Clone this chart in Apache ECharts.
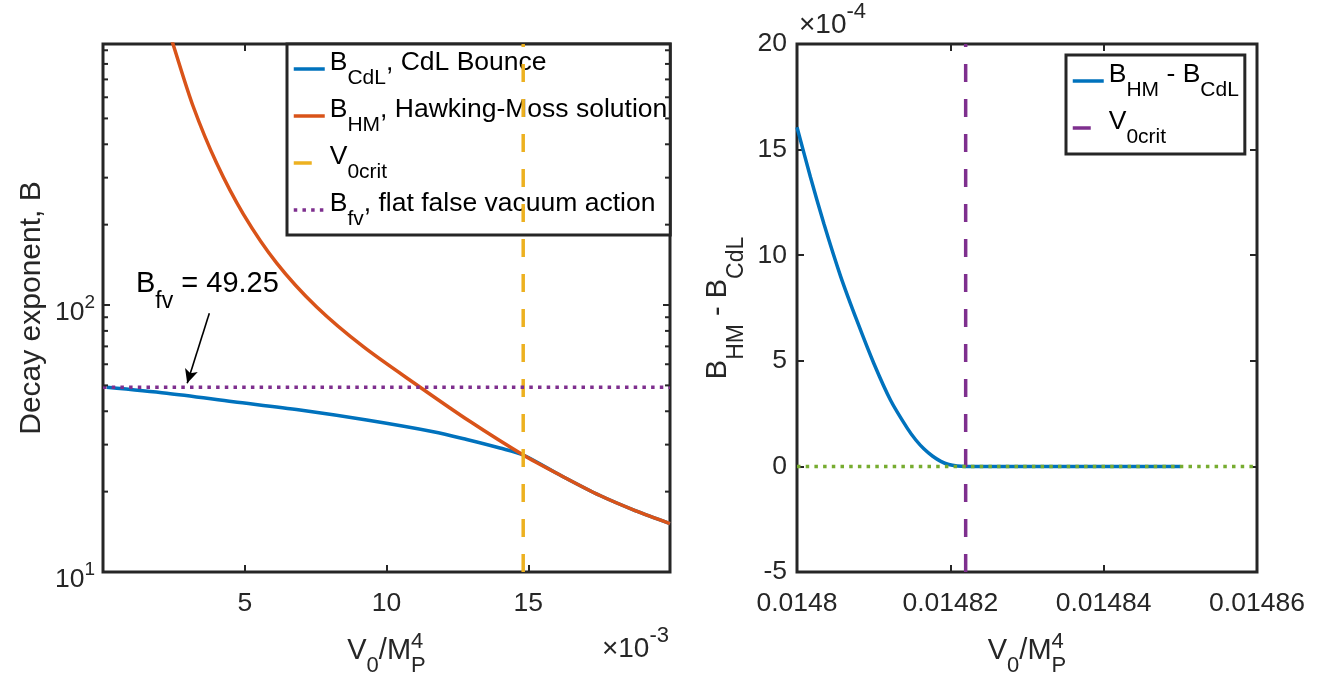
<!DOCTYPE html>
<html><head><meta charset="utf-8">
<script src="https://cdn.jsdelivr.net/npm/echarts@6/dist/echarts.min.js"></script>
<style>html,body{margin:0;padding:0;background:#fff}#c{width:1337px;height:679px}</style>
</head><body><div id="c"></div>
<script>
// ---------- data (left panel: V0 in units of 1e-3) ----------
const cdlV = [0.13, 2.247, 4.596, 6.949, 9.302, 11.65, 12.83, 14.0, 14.822, 16.12, 17.53, 18.77, 20.0];
const cdlB = [49.18, 46.7, 43.44, 40.44, 37.1, 33.54, 31.36, 29.13, 27.43, 23.08, 19.34, 16.99, 15.19];
const hmV = [2.3, 2.48, 3.185, 4.01, 4.95, 6.127, 7.538, 9.182, 11.11, 12.95, 14.822, 16.12, 17.53, 18.77, 20.0];
const hmB = [1090, 942, 553, 339.5, 219.2, 143.6, 98.3, 69.8, 49.87, 36.6, 27.43, 23.08, 19.34, 16.99, 15.19];
const bFv = 49.25;
const bFvV = [0, 20];
const vCritLeft = 14.822;
const leftYRange = [10, 950];
const leftXTicks = [5, 10, 15];
const leftYMinorTicks = [20, 30, 40, 50, 60, 70, 80, 90, 200, 300, 400, 500, 600, 700, 800, 900];
const arrowTail = [3.75, 93.1];
const arrowHead = [2.97, 50.9];
// ---------- data (right panel: difference in units of 1e-4) ----------
const diffV = [0.0148, 0.01480176, 0.0148035, 0.01480569, 0.01480787, 0.01481004, 0.01481222, 0.0148144, 0.0148155, 0.01481658, 0.0148177, 0.01481876, 0.0148198, 0.0148209, 0.014822, 0.01483, 0.01484, 0.01485];
const diffB = [16.06, 13.69, 11.5, 9.0, 6.85, 4.86, 3.12, 1.80, 1.25, 0.82, 0.48, 0.24, 0.09, 0.02, 0, 0, 0, 0];
const vCritRight = 0.014822;
const rightYRange = [-5, 20];
const rightXRange = [0.0148, 0.01486];
const zeroLineV = [0.0148, 0.01486];

// ---------- styling ----------
const FONT = '"Liberation Sans", Arial, Helvetica, sans-serif';
const INK = '#262626';
const C_BLUE = '#0072BD', C_ORANGE = '#D95319', C_YELLOW = '#EDB120', C_PURPLE = '#7E2F8E', C_GREEN = '#77AC30';
const DASH = [18, 17], DOT = [3.5, 5.2];
const LW = 3.5;
const TICK_FS = 26.5;

const zip = (a, b) => a.map((v, i) => [v, b[i]]);

const G0 = {left: 103, top: 44, width: 567, height: 528};
const G1 = {left: 797, top: 44, width: 460, height: 528};

const legendRich = {
  m: {fontSize: 26.5, fontFamily: FONT, color: '#000', lineHeight: 40, verticalAlign: 'top'},
  s: {fontSize: 21, fontFamily: FONT, color: '#000', lineHeight: 40, padding: [19, 0, 0, 0], verticalAlign: 'top'}
};
const legendText = {
  'B_CdL': '{m|B}{s|CdL}{m|, CdL Bounce}',
  'B_HM': '{m|B}{s|HM}{m|, Hawking-Moss solution}',
  'V0crit_L': '{m|V}{s|0crit}',
  'B_fv': '{m|B}{s|fv}{m|, flat false vacuum action}',
  'diff': '{m|B}{s|HM}{m| - B}{s|CdL}',
  'V0crit_R': '{m|V}{s|0crit}'
};

const tickLabel = (extra) => Object.assign({fontSize: TICK_FS, fontFamily: FONT, color: INK}, extra);
const tickStyle = {inside: true, length: 7, lineStyle: {color: INK, width: 2}};
const noLine = {show: false, onZero: false};

function fmtRight(v) { return parseFloat(v.toFixed(6)).toString(); }
function logLabel(v) {
  const e = Math.log10(v);
  if (Math.abs(e - Math.round(e)) < 1e-6) return '{b|10}{p|' + Math.round(e) + '}';
  return '';
}

const mctx = document.createElement('canvas').getContext('2d');
function tw(t, fs) { mctx.font = fs + 'px ' + FONT; return mctx.measureText(t).width; }

function xTitle(cx, baseline) {
  const fM = 29, fS = 22;
  const wV = tw('V', fM), w0 = tw('0', fS), wSM = tw('/M', fM), w4 = tw('4', fS), wP = tw('P', fS);
  const total = wV + w0 + wSM + Math.max(w4, wP);
  let x = cx - total / 2;
  const mid = (b, f) => b - 0.32 * f;
  const els = [];
  const add = (t, xx, b, f) => els.push({type: 'text', x: xx, y: mid(b, f), z: 10, style: {text: t, fontSize: f, fontFamily: FONT, fill: INK, align: 'left', verticalAlign: 'middle'}});
  add('V', x, baseline, fM); x += wV;
  add('0', x, baseline + 13, fS); x += w0;
  add('/M', x, baseline, fM); x += wSM;
  add('4', x, baseline - 11, fS);
  add('P', x, baseline + 13, fS);
  return els;
}

const expRich = {
  m: {fontSize: 28, fontFamily: FONT, fill: INK, lineHeight: 40, padding: [10, 0, 0, 0], verticalAlign: 'top'},
  p: {fontSize: 22, fontFamily: FONT, fill: INK, lineHeight: 40, verticalAlign: 'top'}
};

const legendBase = {
  orient: 'vertical', itemWidth: 31, itemHeight: 14, itemGap: 7, selectedMode: false,
  backgroundColor: '#fff', borderColor: INK, borderWidth: 3, borderRadius: 0,
  lineStyle: {width: LW}, itemStyle: {opacity: 0},
  formatter: n => legendText[n], textStyle: {rich: legendRich}
};

const chart = echarts.init(document.getElementById('c'), null, {renderer: 'canvas'});
chart.setOption({
  animation: false,
  backgroundColor: '#fff',
  grid: [
    Object.assign({show: true, borderColor: INK, borderWidth: 3, backgroundColor: 'transparent'}, G0),
    Object.assign({show: true, borderColor: INK, borderWidth: 3, backgroundColor: 'transparent'}, G1)
  ],
  xAxis: [
    {gridIndex: 0, type: 'value', min: 0, max: 20, interval: 5, position: 'bottom',
      axisLine: noLine, axisTick: tickStyle, splitLine: {show: false},
      axisLabel: tickLabel({margin: 18, formatter: v => leftXTicks.includes(v) ? String(v) : ''})},
    {gridIndex: 0, type: 'value', min: 0, max: 20, interval: 5, position: 'top',
      axisLine: noLine, axisTick: tickStyle, splitLine: {show: false}, axisLabel: {show: false}},
    {gridIndex: 1, type: 'value', min: rightXRange[0], max: rightXRange[1], interval: 0.00002, position: 'bottom',
      axisLine: noLine, axisTick: tickStyle, splitLine: {show: false},
      axisLabel: tickLabel({margin: 18, formatter: fmtRight})},
    {gridIndex: 1, type: 'value', min: rightXRange[0], max: rightXRange[1], interval: 0.00002, position: 'top',
      axisLine: noLine, axisTick: tickStyle, splitLine: {show: false}, axisLabel: {show: false}}
  ],
  yAxis: [
    {gridIndex: 0, type: 'log', logBase: 10, min: leftYRange[0], max: leftYRange[1], position: 'left',
      axisLine: noLine, axisTick: tickStyle, splitLine: {show: false}, minorTick: {show: false},
      axisLabel: {margin: 8, formatter: logLabel, rich: {
        b: {fontSize: 26.5, fontFamily: FONT, color: INK, lineHeight: 40, padding: [14, 0, 0, 0], verticalAlign: 'top'},
        p: {fontSize: 19, fontFamily: FONT, color: INK, lineHeight: 40, padding: [8, 0, 0, 0], verticalAlign: 'top'}}}},
    {gridIndex: 0, type: 'log', logBase: 10, min: leftYRange[0], max: leftYRange[1], position: 'right',
      axisLine: noLine, axisTick: tickStyle, splitLine: {show: false}, axisLabel: {show: false}},
    {gridIndex: 1, type: 'value', min: rightYRange[0], max: rightYRange[1], interval: 5, position: 'left',
      axisLine: noLine, axisTick: tickStyle, splitLine: {show: false},
      axisLabel: tickLabel({margin: 10})},
    {gridIndex: 1, type: 'value', min: rightYRange[0], max: rightYRange[1], interval: 5, position: 'right',
      axisLine: noLine, axisTick: tickStyle, splitLine: {show: false}, axisLabel: {show: false}}
  ],
  legend: [
    Object.assign({}, legendBase, {data: ['B_CdL', 'B_HM', 'V0crit_L', 'B_fv'], left: 287, top: 44, padding: [5, 3, 5, 5]}),
    Object.assign({}, legendBase, {data: ['diff', 'V0crit_R'], left: 1066, top: 55, padding: [6, 6, 6, 5]})
  ],
  series: [
    {name: 'B_CdL', type: 'line', xAxisIndex: 0, yAxisIndex: 0, data: zip(cdlV, cdlB), symbol: 'none', smooth: 0.3,
      lineStyle: {color: C_BLUE, width: LW}, itemStyle: {color: C_BLUE}, z: 3},
    {name: 'B_HM', type: 'line', xAxisIndex: 0, yAxisIndex: 0, data: zip(hmV, hmB), symbol: 'none', smooth: 0.3,
      lineStyle: {color: C_ORANGE, width: LW}, itemStyle: {color: C_ORANGE}, z: 4},
    {name: 'V0crit_L', type: 'line', xAxisIndex: 0, yAxisIndex: 0, data: [[vCritLeft, leftYRange[0]], [vCritLeft, leftYRange[1]]], symbol: 'none',
      lineStyle: {color: C_YELLOW, width: LW, type: DASH}, itemStyle: {color: C_YELLOW}, z: 5},
    {name: 'B_fv', type: 'line', xAxisIndex: 0, yAxisIndex: 0, data: bFvV.map(v => [v, bFv]), symbol: 'none',
      lineStyle: {color: C_PURPLE, width: LW, type: DOT}, itemStyle: {color: C_PURPLE}, z: 6,
      markLine: {silent: true, symbol: ['none', 'arrow'], symbolSize: [10, 14], label: {show: false},
        lineStyle: {color: '#000', width: 1.6, type: 'solid'},
        data: [[{coord: arrowTail}, {coord: arrowHead}]]}},
    {name: 'minorTicks', type: 'custom', xAxisIndex: 0, yAxisIndex: 0, data: leftYMinorTicks.map(v => [0, v]), z: 7, silent: true,
      renderItem: (params, api) => {
        const y = api.coord([0, api.value(1)])[1];
        const x0 = params.coordSys.x, x1 = x0 + params.coordSys.width;
        return {type: 'group', children: [
          {type: 'line', shape: {x1: x0, y1: y, x2: x0 + 5, y2: y}, style: {stroke: INK, lineWidth: 2}},
          {type: 'line', shape: {x1: x1 - 5, y1: y, x2: x1, y2: y}, style: {stroke: INK, lineWidth: 2}}
        ]};
      }},
    {name: 'diff', type: 'line', xAxisIndex: 2, yAxisIndex: 2, data: zip(diffV, diffB), symbol: 'none', smooth: 0.2,
      lineStyle: {color: C_BLUE, width: LW}, itemStyle: {color: C_BLUE}, z: 3},
    {name: 'V0crit_R', type: 'line', xAxisIndex: 2, yAxisIndex: 2, data: [[vCritRight, rightYRange[0]], [vCritRight, rightYRange[1]]], symbol: 'none',
      lineStyle: {color: C_PURPLE, width: LW, type: DASH}, itemStyle: {color: C_PURPLE}, z: 4},
    {name: 'zero', type: 'line', xAxisIndex: 2, yAxisIndex: 2, data: zeroLineV.map(v => [v, 0]), symbol: 'none',
      lineStyle: {color: C_GREEN, width: LW, type: DOT}, itemStyle: {color: C_GREEN}, z: 5}
  ],
  graphic: [
    {type: 'text', left: 136, top: 269, z: 10, style: {text: '{m|B}{s|fv}{m| = 49.25}', rich: {
      m: {fontSize: 29, fontFamily: FONT, fill: '#000', lineHeight: 44, verticalAlign: 'top'},
      s: {fontSize: 23, fontFamily: FONT, fill: '#000', lineHeight: 44, padding: [21, 0, 0, 0], verticalAlign: 'top'}}}},
    {type: 'text', right: 1337 - 669, top: 625, z: 10, style: {text: '{m|\u00D710}{p|-3}', rich: expRich}},
    {type: 'text', left: 799, top: 1, z: 10, style: {text: '{m|\u00D710}{p|-4}', rich: expRich}},
    {type: 'text', x: 32, y: 308, rotation: Math.PI / 2, z: 10,
      style: {text: 'Decay exponent, B', fontSize: 30, fontFamily: FONT, fill: INK, align: 'center', verticalAlign: 'middle'}},
    {type: 'text', x: 726, y: 308, rotation: Math.PI / 2, z: 10,
      style: {text: '{m|B}{s|HM}{m| - B}{s|CdL}', align: 'center', verticalAlign: 'middle', rich: {
        m: {fontSize: 29, fontFamily: FONT, fill: INK, lineHeight: 46, verticalAlign: 'top'},
        s: {fontSize: 23, fontFamily: FONT, fill: INK, lineHeight: 46, padding: [22, 0, 0, 0], verticalAlign: 'top'}}}},
    ...xTitle(G0.left + G0.width / 2, 660),
    ...xTitle(G1.left + G1.width / 2, 660)
  ]
});
</script></body></html>
